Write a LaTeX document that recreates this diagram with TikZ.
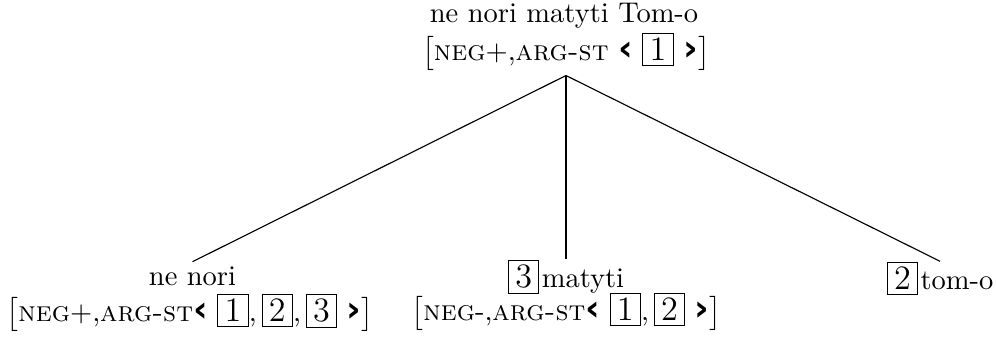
\documentclass[tikz,border=0pt]{standalone}
\usepackage{fontspec}
\newfontfamily\chevfont{DejaVu Sans}
\newcommand{\tagbox}[1]{{\setlength{\fboxsep}{1.5pt}\setlength{\fboxrule}{0.4pt}\fbox{\hspace{0.7pt}{\large #1}\hspace{0.7pt}}}}
\newcommand{\agl}{{\chevfont\bfseries\fontsize{12.5pt}{12pt}\selectfont ‹}}
\newcommand{\agr}{{\chevfont\bfseries\fontsize{12.5pt}{12pt}\selectfont ›}}
\begin{document}
\begin{tikzpicture}[x=0.3509pt,y=-0.3509pt,
  every node/.style={inner sep=0pt, font=\fontsize{10pt}{12pt}\selectfont},
  branch/.style={draw=black, line width=0.4pt}]
\useasboundingbox (0,0) rectangle (996,339);
% root
\node[anchor=base] (t1) at (564,23) {ne nori matyti Tom-o};
\node[anchor=base] (t2) at (566,61) {$\big[$\textsc{neg}$+$,\textsc{arg-st} \agl{} \tagbox{1} \agr$\big]$};
% left child
\node[anchor=base, inner ysep=1.75pt] (l1) at (192.5,286) {ne nori};
\node[anchor=base] (l2) at (190,322) {$\big[$\textsc{neg}$+$,\textsc{arg-st}\agl{} \tagbox{1},\,\tagbox{2},\,\tagbox{3} \agr$\big]$};
% middle child
\node[anchor=base] (m1) at (566,288) {\tagbox{3}\hspace{0.8pt}matyti};
\node[anchor=base] (m2) at (566.5,321) {$\big[$\textsc{neg}-,\textsc{arg-st}\agl{} \tagbox{1},\,\tagbox{2} \agr$\big]$};
% right child
\node[anchor=base] (r1) at (940,290) {\tagbox{2}\hspace{0.8pt}tom-o};
% branches
\draw[branch] ([yshift=-1.4pt]t2.south) -- (l1.north);
\draw[branch] ([yshift=-1.4pt]t2.south) -- (m1.north);
\draw[branch] ([yshift=-1.4pt]t2.south) -- (r1.north);
\end{tikzpicture}
\end{document}
